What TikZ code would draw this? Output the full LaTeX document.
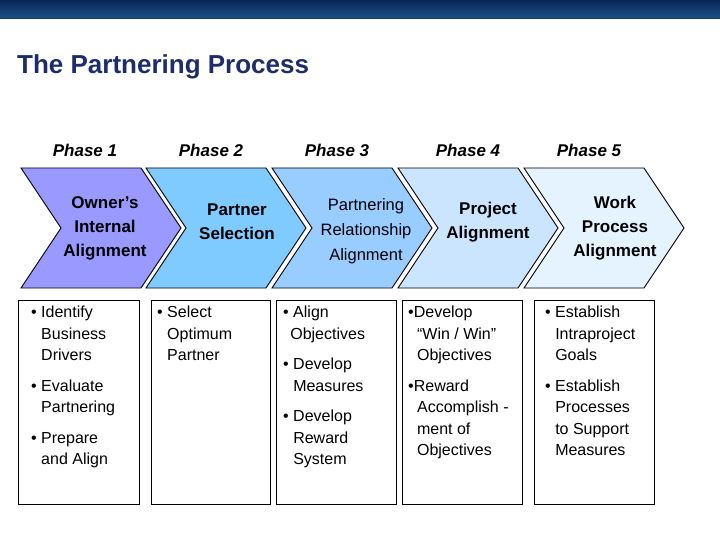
\documentclass[tikz,border=0pt]{standalone}
\usepackage{fontspec}
\setmainfont{Liberation Sans}
\definecolor{hdtop}{RGB}{8,38,86}
\definecolor{hdbot}{RGB}{30,80,135}
\definecolor{hdline}{RGB}{20,60,110}
\definecolor{ttl}{RGB}{30,45,105}
\definecolor{c1}{RGB}{153,153,255}
\definecolor{c2}{RGB}{127,203,255}
\definecolor{c3}{RGB}{153,204,255}
\definecolor{c4}{RGB}{204,229,255}
\definecolor{c5}{RGB}{229,243,255}
\begin{document}
\begin{tikzpicture}[x=1pt,y=-1pt,
  chev/.style={draw=black,line width=0.9pt},
  ctext/.style={align=center,font=\fontsize{17}{24}\selectfont\bfseries},
  ph/.style={font=\fontsize{17}{20}\selectfont\bfseries\itshape},
  bbox/.style={draw=black,line width=0.8pt},
  btext/.style={anchor=north west,align=left,font=\fontsize{16}{21.5}\selectfont,inner sep=0pt}]
\useasboundingbox (0,0) rectangle (720,540);
\fill[white] (0,0) rectangle (720,540);
\shade[top color=hdtop,bottom color=hdbot] (0,0) rectangle (720,18);
\fill[hdline] (0,18) rectangle (720,19.5);
\node[anchor=base west,inner sep=0pt,font=\fontsize{26}{30}\selectfont\bfseries,text=ttl] (title) at (17,74) {The Partnering Process};
% phases
\node[ph] (p1) at (85,150) {Phase 1};
\node[ph] (p2) at (211,150) {Phase 2};
\node[ph] (p3) at (337,150) {Phase 3};
\node[ph] (p4) at (468,150) {Phase 4};
\node[ph] (p5) at (589,150) {Phase 5};
% chevrons
\foreach \L/\c in {21/c1,146/c2,272/c3,398/c4,524/c5}{
  \filldraw[chev,fill=\c] (\L,168) -- (\L+120,168) -- (\L+160,228) -- (\L+120,288) -- (\L,288) -- (\L+40,228) -- cycle;
}
\node[ctext] (t1) at (105,228) {Owner’s\\Internal\\Alignment};
\node[ctext] (t2) at (237,222) {Partner\\Selection};
\node[ctext,font=\fontsize{16.5}{25}\selectfont] (t3) at (366,231) {Partnering\\Relationship\\Alignment};
\node[ctext] (t4) at (488,222) {Project\\Alignment};
\node[ctext] (t5) at (615,228) {Work\\Process\\Alignment};
% boxes
\draw[bbox] (18,300) rectangle (139,504);
\draw[bbox] (151,300) rectangle (270,504);
\draw[bbox] (276,300) rectangle (396,504);
\draw[bbox] (402,300) rectangle (522,504);
\draw[bbox] (534,300) rectangle (654,504);
\newcommand{\ind}{\phantom{•\ }}
\node[btext] (b1) at (31,306) {• Identify\\\ind Business\\\ind Drivers\\[9pt]• Evaluate\\\ind Partnering\\[9pt]• Prepare\\\ind and Align};
\node[btext] (b2) at (157,306) {• Select\\\ind Optimum\\\ind Partner};
\node[btext] (b3) at (283,306) {• Align\\\ \,Objectives\\[9pt]• Develop\\\ind Measures\\[9pt]• Develop\\\ind Reward\\\ind System};
\node[btext] (b4) at (408,306) {•Develop\\\ \ “Win / Win”\\\ \ Objectives\\[9pt]•Reward\\\ \ Accomplish -\\\ \ ment of\\\ \ Objectives};
\node[btext] (b5) at (545,306) {• Establish\\\ind Intraproject\\\ind Goals\\[9pt]• Establish\\\ind Processes\\\ind to Support\\\ind Measures};
\end{tikzpicture}
\end{document}
